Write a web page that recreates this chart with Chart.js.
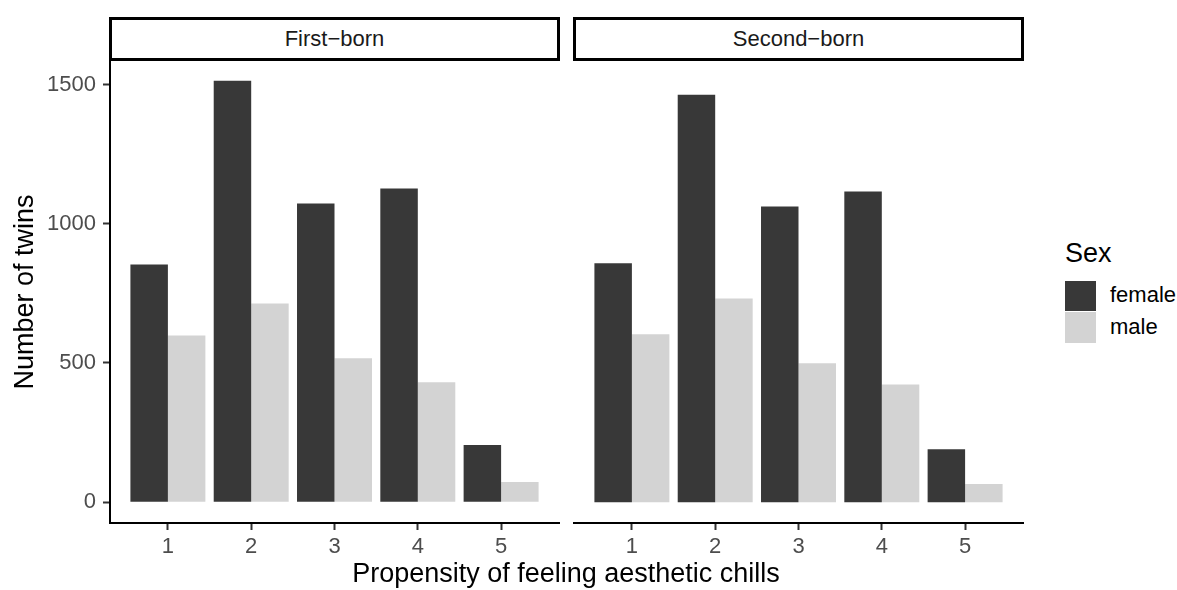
<!DOCTYPE html>
<html>
<head>
<meta charset="utf-8">
<script src="https://cdn.jsdelivr.net/npm/chart.js@4.4.0/dist/chart.umd.min.js"></script>
<style>
  body { margin: 0; background: #fff; width: 1177px; height: 590px; overflow: hidden; position: relative;
         font-family: "Liberation Sans", Arial, sans-serif; }
  .panel { position: absolute; top: 0; }
  .strip { position: absolute; top: 17px; height: 44px; width: 451px; border: 3px solid #000; box-sizing: border-box;
           text-align: center; line-height: 38px; font-size: 22px; color: #1a1a1a; background: #fff; }
  .abs { position: absolute; white-space: nowrap; }
  #xtitle { left: 0; width: 1132px; top: 560px; text-align: center; font-size: 27px; line-height: 27px; color: #000; }
  #legtitle { left: 1065px; top: 240px; font-size: 27px; line-height: 27px; color: #000; }
  .key { position: absolute; left: 1065px; width: 31px; }
  .keylab { left: 1110px; font-size: 22px; line-height: 22px; color: #000; }
</style>
</head>
<body>
<div class="panel" style="left:0"><canvas id="first" width="561" height="590"></canvas></div>
<div class="panel" style="left:564px"><canvas id="second" width="461" height="590"></canvas></div>
<div class="strip" id="strip1" style="left:109px"></div>
<div class="strip" id="strip2" style="left:573px"></div>
<div class="abs" id="xtitle"></div>
<div class="abs" id="legtitle"></div>
<div class="key" id="key0" style="top:281px;height:30px"></div>
<div class="key" id="key1" style="top:312px;height:31px"></div>
<div class="abs keylab" id="lab0" style="top:284px"></div>
<div class="abs keylab" id="lab1" style="top:316px"></div>
<script>
// Data
const propensity = [1, 2, 3, 4, 5];
const birthOrder = ['First\u2212born', 'Second\u2212born'];
const sexLevels = ['female', 'male'];
const sexColors = ['#383838', '#d3d3d3'];
const firstFemale = [854, 1514, 1073, 1127, 205];
const firstMale = [599, 714, 517, 431, 72];
const secondFemale = [858, 1464, 1062, 1116, 190];
const secondMale = [603, 732, 499, 423, 65];
const yTicks = [0, 500, 1000, 1500];

const xLabel = 'Propensity of feeling aesthetic chills';
const yLabel = 'Number of twins';
const legendTitle = 'Sex';

Chart.defaults.font.family = '"Liberation Sans", Arial, sans-serif';

const tickFont = { size: 22 };

// Build datasets for one facet
function panelData(female, male) {
  return {
    datasets: [female, male].map((vals, k) => ({
      label: sexLevels[k],
      data: vals.map((v, i) => ({ x: propensity[i], y: v })),
      backgroundColor: sexColors[k],
      borderWidth: 0
    }))
  };
}

function panelOptions(showY) {
  return {
    responsive: false,
    animation: false,
    devicePixelRatio: 1,
    layout: { padding: { top: 61, right: 2, bottom: 0, left: showY ? 0 : 10 } },
    plugins: { legend: { display: false }, tooltip: { enabled: false } },
    datasets: { bar: { categoryPercentage: 0.9, barPercentage: 1 } },
    scales: {
      x: {
        type: 'linear',
        min: 0.305,
        max: 5.695,
        offset: false,
        afterBuildTicks: s => { s.ticks = propensity.map(v => ({ value: v })); },
        afterFit: s => { s.height = 67; },
        grid: { offset: false, drawOnChartArea: false, drawTicks: true, tickLength: 7, tickWidth: 2, tickColor: '#333333' },
        border: { display: true, color: '#000000', width: 2 },
        ticks: { padding: 4, color: '#4d4d4d', font: tickFont, maxRotation: 0, callback: v => String(v) }
      },
      y: {
        display: showY,
        min: -75,
        max: 1585,
        afterBuildTicks: s => { s.ticks = yTicks.map(v => ({ value: v })); },
        afterFit: s => { s.width = showY ? 110 : 0; },
        grid: { drawOnChartArea: false, drawTicks: true, tickLength: 7, tickWidth: 2, tickColor: '#333333' },
        border: { display: true, color: '#000000', width: 2 },
        ticks: { padding: 7, color: '#4d4d4d', font: tickFont, callback: v => String(v) },
        title: {
          display: true,
          text: yLabel,
          color: '#000000',
          font: { size: 27 },
          padding: { top: 9, bottom: 0 }
        }
      }
    }
  };
}

new Chart(document.getElementById('first'), {
  type: 'bar',
  data: panelData(firstFemale, firstMale),
  options: panelOptions(true)
});

new Chart(document.getElementById('second'), {
  type: 'bar',
  data: panelData(secondFemale, secondMale),
  options: panelOptions(false)
});

// Facet strips, axis title and legend as text
document.getElementById('strip1').textContent = birthOrder[0];
document.getElementById('strip2').textContent = birthOrder[1];
document.getElementById('xtitle').textContent = xLabel;
document.getElementById('legtitle').textContent = legendTitle;
sexLevels.forEach((s, k) => {
  document.getElementById('key' + k).style.background = sexColors[k];
  document.getElementById('lab' + k).textContent = s;
});
</script>
</body>
</html>
